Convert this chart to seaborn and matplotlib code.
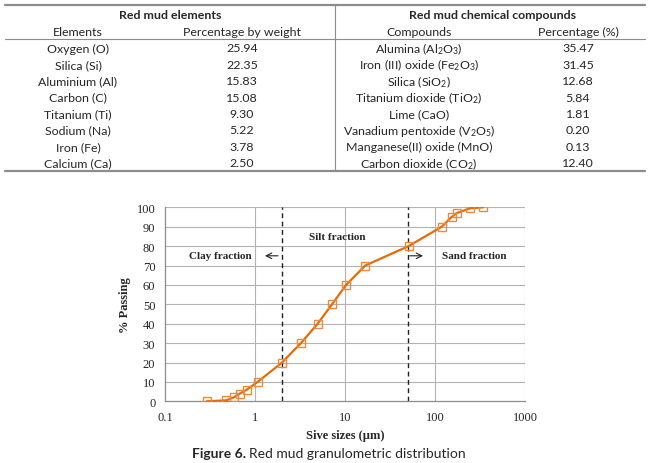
import matplotlib
matplotlib.use("Agg")
import matplotlib.pyplot as plt
import seaborn as sns
import pandas as pd
from matplotlib.lines import Line2D

# ---------------- data ----------------
elements = ["Oxygen (O)", "Silica (Si)", "Aluminium (Al)", "Carbon (C)",
            "Titanium (Ti)", "Sodium (Na)", "Iron (Fe)", "Calcium (Ca)"]
element_pct = ["25.94", "22.35", "15.83", "15.08", "9.30", "5.22", "3.78", "2.50"]
compounds = [r"Alumina (Al$_2$O$_3$)", r"Iron (III) oxide (Fe$_2$O$_3$)",
             r"Silica (SiO$_2$)", r"Titanium dioxide (TiO$_2$)", "Lime (CaO)",
             r"Vanadium pentoxide (V$_2$O$_5$)", "Manganese(II) oxide (MnO)",
             r"Carbon dioxide (CO$_2$)"]
compound_pct = ["35.47", "31.45", "12.68", "5.84", "1.81", "0.20", "0.13", "12.40"]

sieve_size = [0.29, 0.48, 0.58, 0.68, 0.81, 1.07, 2.0, 3.24, 4.97, 7.17, 10.3,
              16.8, 51, 119, 153, 174, 245, 344]
passing = [0, 0.5, 2, 4, 6, 10, 20, 30, 40, 50, 60, 70, 80, 90, 95, 97, 99.5, 100]
boundaries = [2, 50]
x_ticks = [0.1, 1, 10, 100, 1000]
x_ticklabels = ["0.1", "1", "10", "100", "1000"]
y_ticks = list(range(0, 101, 10))

# ---------------- style ----------------
sns.set_style("white")
plt.rcParams["font.family"] = ["Lato", "DejaVu Sans"]
plt.rcParams["mathtext.fontset"] = "custom"
plt.rcParams["mathtext.rm"] = "Lato"
plt.rcParams["mathtext.it"] = "Lato:italic"
plt.rcParams["mathtext.bf"] = "Lato:bold"

W, H = 648, 464
fig = plt.figure(figsize=(W / 100, H / 100), dpi=100)

def fx(px):
    return px / W

def fy(py):
    return 1 - py / H

# ---------------- table ----------------
tfs = 8.9
line_col = "#8c8c8c"
fig.add_artist(Line2D([fx(5), fx(645)], [fy(6), fy(6)], color=line_col, lw=1.6))
fig.add_artist(Line2D([fx(5), fx(645)], [fy(39.5), fy(39.5)], color=line_col, lw=0.8))
fig.add_artist(Line2D([fx(5), fx(645)], [fy(171.5), fy(171.5)], color=line_col, lw=1.6))
fig.add_artist(Line2D([fx(334.5), fx(334.5)], [fy(6), fy(171.5)], color=line_col, lw=0.8))

fig.text(fx(170), fy(15.5), "Red mud elements", ha="center", va="center",
         fontsize=tfs, fontweight="bold")
fig.text(fx(493), fy(15.5), "Red mud chemical compounds", ha="center", va="center",
         fontsize=tfs, fontweight="bold")
fig.text(fx(78), fy(32), "Elements", ha="center", va="center", fontsize=tfs)
fig.text(fx(242), fy(32), "Percentage by weight", ha="center", va="center", fontsize=tfs)
fig.text(fx(419), fy(32), "Compounds", ha="center", va="center", fontsize=tfs)
fig.text(fx(578), fy(32), "Percentage (%)", ha="center", va="center", fontsize=tfs)

for i in range(len(elements)):
    yy = fy(49 + i * 16.4)
    fig.text(fx(78), yy, elements[i], ha="center", va="center", fontsize=tfs)
    fig.text(fx(242), yy, element_pct[i], ha="center", va="center", fontsize=tfs)
    fig.text(fx(419), yy, compounds[i], ha="center", va="center", fontsize=tfs)
    fig.text(fx(578), yy, compound_pct[i], ha="center", va="center", fontsize=tfs)

# ---------------- chart ----------------
ax = fig.add_axes([fx(165), fy(402.3), fx(525) - fx(165), fy(208.3) - fy(402.3)])
df = pd.DataFrame({"size": sieve_size, "passing": passing})

serif = ["Liberation Serif", "DejaVu Serif"]
grid_col = "#b3b3b3"
for yv in y_ticks[1:]:
    ax.axhline(yv, color=grid_col, lw=0.8, zorder=0)
for xv in x_ticks[1:]:
    ax.axvline(xv, color=grid_col, lw=0.8, zorder=0)
for b in boundaries:
    ax.axvline(b, color="#222222", lw=1.0, ls=(0, (3.5, 2.5)), zorder=1)

sns.lineplot(data=df, x="size", y="passing", ax=ax, color="#E46C0A", lw=1.6,
             marker="s", markersize=5.3, markerfacecolor="none",
             markeredgecolor="#F08A3C", markeredgewidth=1.0, zorder=3)

ax.set_xscale("log")
ax.set_xlim(0.1, 1000)
ax.set_ylim(0, 100)
ax.set_xticks(x_ticks)
ax.set_xticklabels(x_ticklabels)
ax.minorticks_off()
ax.set_yticks(y_ticks)
for s in ["top", "right"]:
    ax.spines[s].set_visible(False)
ax.spines["left"].set_color("#8c8c8c")
ax.spines["bottom"].set_color("#8c8c8c")
ax.spines["left"].set_linewidth(0.9)
ax.spines["bottom"].set_linewidth(0.9)
ax.tick_params(axis="both", which="both", direction="out", length=4, width=0.9,
               color="#8c8c8c", labelsize=9, pad=3)
ax.tick_params(axis="x", length=4, pad=3)
for lab in ax.get_xticklabels() + ax.get_yticklabels():
    lab.set_family(serif)

ax.set_xlabel("Sive sizes (\u00b5m)", family=serif, fontsize=9, fontweight="bold",
              labelpad=4)
ax.set_ylabel("% Passing", family=serif, fontsize=9, fontweight="bold", labelpad=4)

txt_kw = dict(family=serif, fontsize=8, fontweight="bold", ha="center", va="center")
ax.text(0.41, 75, "Clay fraction", **txt_kw)
ax.text(8.3, 85, "Silt fraction", **txt_kw)
ax.text(271, 75, "Sand fraction", **txt_kw)
arrow_kw = dict(arrowstyle="->", color="#222222", lw=0.8, shrinkA=0, shrinkB=0)
ax.annotate("", xy=(1.29, 75), xytext=(1.80, 75), arrowprops=arrow_kw)
ax.annotate("", xy=(73.6, 75), xytext=(52.5, 75), arrowprops=arrow_kw)

# ---------------- caption ----------------
fig.canvas.draw()
renderer = fig.canvas.get_renderer()
t1 = fig.text(fx(192), fy(454), "Figure 6.", ha="left", va="center", fontsize=10,
              fontweight="bold")
bb = t1.get_window_extent(renderer)
fig.text(fx(bb.x1 + 3), fy(454), "Red mud granulometric distribution", ha="left",
         va="center", fontsize=10)

fig.savefig("out.png", dpi=100)
